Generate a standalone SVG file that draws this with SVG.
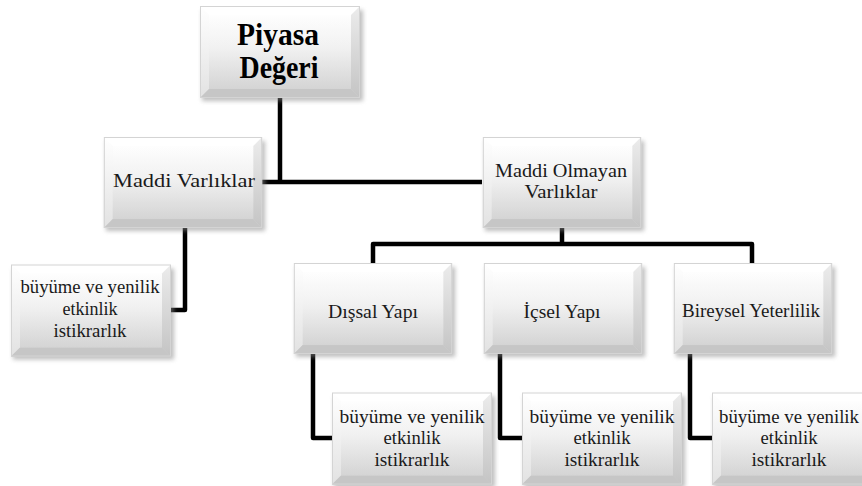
<svg xmlns="http://www.w3.org/2000/svg" xmlns:xlink="http://www.w3.org/1999/xlink" width="862" height="486" viewBox="0 0 862 486">
  <style>
    .wire { fill: none; stroke: #000; stroke-width: 4.5; stroke-linejoin: round; stroke-linecap: butt; }
    .lbl { font-family: "Liberation Serif", "Times New Roman", serif; font-size: 18px; fill: #1a1a1a; text-anchor: middle; }
    .title { font-family: "Liberation Serif", "Times New Roman", serif; font-size: 31px; font-weight: bold; fill: #000; text-anchor: middle; }
  </style>
  <defs>
    <linearGradient id="face" x1="0" y1="0" x2="0" y2="1">
      <stop offset="0" stop-color="#ffffff"/>
      <stop offset="0.45" stop-color="#f1f1f1"/>
      <stop offset="1" stop-color="#d2d2d2"/>
    </linearGradient>
    <linearGradient id="sideL" x1="0" y1="0" x2="0" y2="1">
      <stop offset="0" stop-color="#ffffff"/>
      <stop offset="1" stop-color="#e2e2e2"/>
    </linearGradient>
    <linearGradient id="sideR" x1="0" y1="0" x2="0" y2="1">
      <stop offset="0" stop-color="#ececec"/>
      <stop offset="1" stop-color="#c4c4c4"/>
    </linearGradient>
    <filter id="drop" x="-10%" y="-10%" width="130%" height="135%">
      <feGaussianBlur stdDeviation="2.2"/>
    </filter>
    <!-- bevelled grey button used for every node -->
    <symbol id="bevel" viewBox="0 0 160 92" overflow="visible">
      <rect x="2" y="4" width="161" height="91" fill="#8a8a8a" opacity="0.55" filter="url(#drop)"/>
      <rect x="0" y="0" width="160" height="92" fill="url(#face)"/>
      <polygon points="0,0 160,0 151,9 9,9" fill="#ffffff"/>
      <polygon points="0,0 9,9 9,83 0,92" fill="url(#sideL)"/>
      <polygon points="160,0 160,92 151,83 151,9" fill="url(#sideR)"/>
      <polygon points="0,92 9,83 151,83 160,92" fill="#c6c6c6"/>
      <rect x="9" y="9" width="142" height="74" fill="url(#face)" opacity="0.6"/>
      <rect x="0.5" y="0.5" width="159" height="91" fill="none" stroke="#d4d4d4" stroke-width="1"/>
    </symbol>
  </defs>

  <g id="connectors">
    <path class="wire" d="M280,97 V182"/>
    <path class="wire" d="M262,182 H482"/>
    <path class="wire" d="M185,228 V310 H171"/>
    <path class="wire" d="M562,228 V244"/>
    <path class="wire" d="M373,263 V244 H752 V263"/>
    <path class="wire" d="M313,354 V438 H332"/>
    <path class="wire" d="M500,354 V438 H522"/>
    <path class="wire" d="M690,354 V438 H712"/>
  </g>

  <g id="piyasa-degeri">
    <use xlink:href="#bevel" href="#bevel" x="200" y="6" width="160" height="92"/>
    <text class="title" x="278" y="45" textLength="82" lengthAdjust="spacingAndGlyphs">Piyasa</text>
    <text class="title" x="279" y="78" textLength="79" lengthAdjust="spacingAndGlyphs">Değeri</text>
  </g>

  <g id="maddi-varliklar">
    <use xlink:href="#bevel" href="#bevel" x="103" y="137" width="160" height="91"/>
    <text class="lbl" x="184" y="187" textLength="142" lengthAdjust="spacingAndGlyphs">Maddi Varlıklar</text>
  </g>

  <g id="maddi-olmayan-varliklar">
    <use xlink:href="#bevel" href="#bevel" x="482" y="137" width="160" height="91"/>
    <text class="lbl" x="561" y="177" textLength="132" lengthAdjust="spacingAndGlyphs">Maddi Olmayan</text>
    <text class="lbl" x="561" y="198" textLength="73" lengthAdjust="spacingAndGlyphs">Varlıklar</text>
  </g>

  <g id="maddi-alt">
    <use xlink:href="#bevel" href="#bevel" x="11" y="264" width="160" height="93"/>
    <text class="lbl" x="90" y="293" textLength="139" lengthAdjust="spacingAndGlyphs">büyüme ve yenilik</text>
    <text class="lbl" x="90" y="315" textLength="55" lengthAdjust="spacingAndGlyphs">etkinlik</text>
    <text class="lbl" x="90" y="337" textLength="73" lengthAdjust="spacingAndGlyphs">istikrarlık</text>
  </g>

  <g id="dissal-yapi">
    <use xlink:href="#bevel" href="#bevel" x="293" y="263" width="160" height="91"/>
    <text class="lbl" x="373" y="318" textLength="90" lengthAdjust="spacingAndGlyphs">Dışsal Yapı</text>
  </g>

  <g id="icsel-yapi">
    <use xlink:href="#bevel" href="#bevel" x="483" y="263" width="160" height="91"/>
    <text class="lbl" x="562" y="318" textLength="77" lengthAdjust="spacingAndGlyphs">İçsel Yapı</text>
  </g>

  <g id="bireysel-yeterlilik">
    <use xlink:href="#bevel" href="#bevel" x="673" y="263" width="160" height="91"/>
    <text class="lbl" x="751" y="317" textLength="138" lengthAdjust="spacingAndGlyphs">Bireysel Yeterlilik</text>
  </g>

  <g id="dissal-alt">
    <use xlink:href="#bevel" href="#bevel" x="332" y="392" width="160" height="93"/>
    <text class="lbl" x="412" y="423" textLength="145" lengthAdjust="spacingAndGlyphs">büyüme ve yenilik</text>
    <text class="lbl" x="412" y="444" textLength="57" lengthAdjust="spacingAndGlyphs">etkinlik</text>
    <text class="lbl" x="412" y="466" textLength="75" lengthAdjust="spacingAndGlyphs">istikrarlık</text>
  </g>

  <g id="icsel-alt">
    <use xlink:href="#bevel" href="#bevel" x="522" y="392" width="160" height="93"/>
    <text class="lbl" x="602" y="423" textLength="145" lengthAdjust="spacingAndGlyphs">büyüme ve yenilik</text>
    <text class="lbl" x="602" y="444" textLength="57" lengthAdjust="spacingAndGlyphs">etkinlik</text>
    <text class="lbl" x="602" y="466" textLength="75" lengthAdjust="spacingAndGlyphs">istikrarlık</text>
  </g>

  <g id="bireysel-alt">
    <use xlink:href="#bevel" href="#bevel" x="712" y="392" width="160" height="93"/>
    <text class="lbl" x="789" y="423" textLength="140" lengthAdjust="spacingAndGlyphs">büyüme ve yenilik</text>
    <text class="lbl" x="789" y="444" textLength="57" lengthAdjust="spacingAndGlyphs">etkinlik</text>
    <text class="lbl" x="789" y="466" textLength="75" lengthAdjust="spacingAndGlyphs">istikrarlık</text>
  </g>
</svg>
